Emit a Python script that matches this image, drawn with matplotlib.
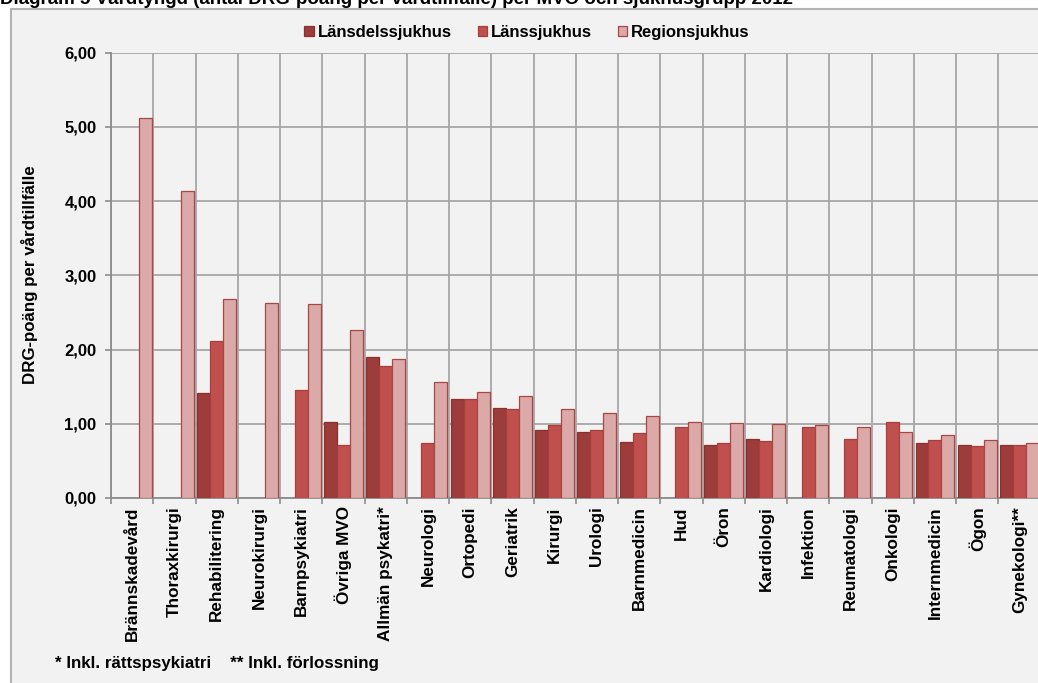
import numpy as np
import matplotlib
matplotlib.use("Agg")
import matplotlib.pyplot as plt
from matplotlib.patches import Rectangle

plt.rcParams['font.family'] = ['Liberation Sans', 'DejaVu Sans']
plt.rcParams['font.weight'] = 'bold'

categories = ["Brännskadevård", "Thoraxkirurgi", "Rehabilitering", "Neurokirurgi",
              "Barnpsykiatri", "Övriga MVO", "Allmän psykatri*", "Neurologi",
              "Ortopedi", "Geriatrik", "Kirurgi", "Urologi", "Barnmedicin", "Hud",
              "Öron", "Kardiologi", "Infektion", "Reumatologi", "Onkologi",
              "Internmedicin", "Ögon", "Gynekologi**"]

nan = np.nan
lansdelssjukhus = [nan, nan, 1.42, nan, nan, 1.02, 1.90, nan, 1.34, 1.21, 0.92, 0.89,
                   0.76, nan, 0.71, 0.79, nan, nan, nan, 0.74, 0.71, 0.71]
lanssjukhus = [nan, nan, 2.11, nan, 1.46, 0.71, 1.78, 0.74, 1.33, 1.20, 0.98, 0.92,
               0.88, 0.95, 0.74, 0.77, 0.96, 0.79, 1.02, 0.78, 0.70, 0.71]
regionsjukhus = [5.12, 4.13, 2.68, 2.63, 2.62, 2.26, 1.87, 1.56, 1.43, 1.38, 1.20, 1.14,
                 1.10, 1.02, 1.01, 1.00, 0.99, 0.95, 0.89, 0.85, 0.78, 0.74]
series_names = ["Länsdelssjukhus", "Länssjukhus", "Regionsjukhus"]
yticks = [0, 1, 2, 3, 4, 5, 6]

W, H = 1038, 683
fig = plt.figure(figsize=(W / 100, H / 100), dpi=100, facecolor='white')

# chart frame
fig.patches.append(Rectangle((11 / W, -0.1), 1.2, 1.1 - 9 / H, transform=fig.transFigure,
                             facecolor='#f2f2f2', edgecolor='#b3b3b3', linewidth=1.5,
                             zorder=-5))

fig.text(0.0, 1 - 4.5 / H,
         "Diagram 5 Vårdtyngd (antal DRG-poäng per vårdtillfälle) per MVO och sjukhusgrupp 2012",
         fontsize=13.5, fontweight='bold', ha='left', va='baseline')

left, right = 111 / W, 1040.6 / W
bottom, top = (H - 498) / H, (H - 52.7) / H
ax = fig.add_axes([left, bottom, right - left, top - bottom])
ax.set_facecolor('none')

x = np.arange(len(categories))
bw = 0.307
colors = ['#9c3c3b', '#c0504d', '#dba9a8']
edges = ['#8a3130', '#a83e3c', '#a84846']
for i, (vals, name) in enumerate(zip([lansdelssjukhus, lanssjukhus, regionsjukhus], series_names)):
    ax.bar(x + (i - 1) * bw, vals, width=bw, color=colors[i], edgecolor=edges[i],
           linewidth=0.9, label=name, zorder=3)

ax.set_xlim(-0.5, len(categories) - 0.5)
ax.set_ylim(0, 6)
ax.set_yticks(yticks)
ax.set_yticklabels([f"{v:.2f}".replace('.', ',') for v in yticks])
ax.set_xticks(x)
ax.set_xticklabels(categories, rotation=90, va='top', ha='center')
ax.set_xticks(np.arange(len(categories) + 1) - 0.5, minor=True)

ax.tick_params(axis='y', length=4, width=1.2, color='#8c8c8c', pad=6.5, labelsize=12)
ax.tick_params(axis='x', which='major', length=0, pad=6, labelsize=12.3)
ax.tick_params(axis='x', which='minor', length=4, width=1.2, color='#8c8c8c')
for lab in ax.get_xticklabels() + ax.get_yticklabels():
    lab.set_fontweight('bold')

ax.grid(axis='y', which='major', color='#a6a6a6', linewidth=1.3, zorder=1)
ax.grid(axis='x', which='minor', color='#a6a6a6', linewidth=1.3, zorder=1)
ax.set_axisbelow(True)
for s in ['top', 'right']:
    ax.spines[s].set_visible(False)
for s in ['left', 'bottom']:
    ax.spines[s].set_color('#8c8c8c')
    ax.spines[s].set_linewidth(1.3)

fig.text(30 / W, 1 - 275 / H, "DRG-poäng per vårdtillfälle", rotation=90,
         ha='center', va='center', fontsize=12.2, fontweight='bold')

leg = ax.legend(loc='center', bbox_to_anchor=(527 / W, 1 - 32 / H),
                bbox_transform=fig.transFigure, ncol=3, frameon=False,
                fontsize=12, handlelength=0.55, handleheight=0.55,
                handletextpad=0.25, columnspacing=1.55, borderpad=0)
for t in leg.get_texts():
    t.set_fontweight('bold')

fig.text(55 / W, 1 - 668 / H, "* Inkl. rättspsykiatri    ** Inkl. förlossning",
         ha='left', va='baseline', fontsize=12.2, fontweight='bold')

fig.savefig("out.png", dpi=100, facecolor='white')
